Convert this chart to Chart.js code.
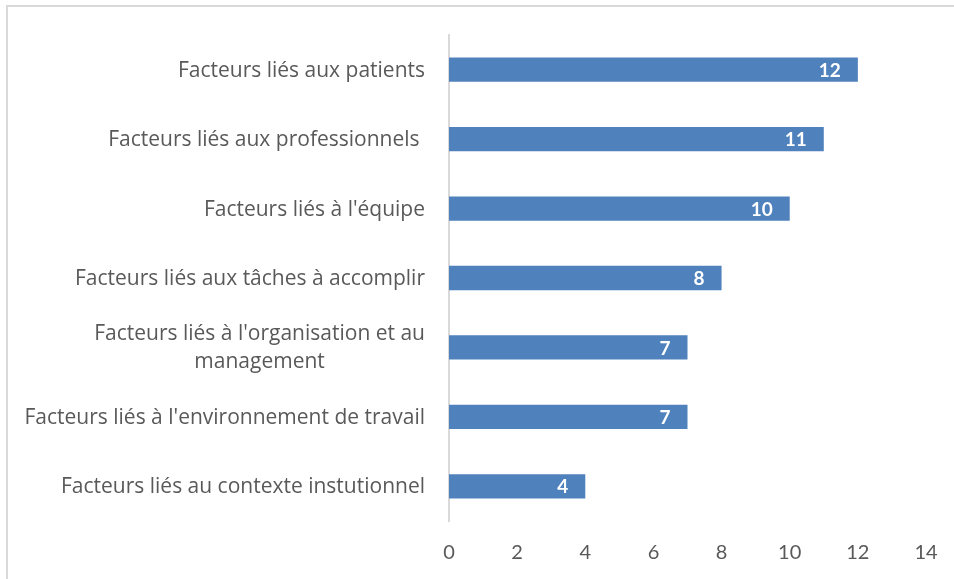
<!DOCTYPE html>
<html>
<head>
<meta charset="utf-8">
<script src="https://cdn.jsdelivr.net/npm/chart.js@4"></script>
<style>
  html, body { margin: 0; padding: 0; background: #fff; overflow: hidden; }
  #frame { position: absolute; left: 6px; top: 5px; width: 1000px; height: 700px; border: 2px solid #d9d9d9; box-sizing: border-box; }
  #wrap { position: absolute; left: 0; top: 0; width: 954px; height: 579px; }
</style>
</head>
<body>
<div id="frame"></div>
<div id="wrap"><canvas id="c" width="954" height="579"></canvas></div>
<script>
const categories = [
  "Facteurs liés aux patients",
  "Facteurs liés aux professionnels ",
  "Facteurs liés à l'équipe",
  "Facteurs liés aux tâches à accomplir",
  ["Facteurs liés à l'organisation et au", "management"],
  "Facteurs liés à l'environnement de travail",
  "Facteurs liés au contexte instutionnel"
];
const values = [12, 11, 10, 8, 7, 7, 4];
const xTicks = [0, 2, 4, 6, 8, 10, 12, 14];

const CAT_FONT = "'Open Sans', sans-serif";
const NUM_FONT = "Lato, 'Open Sans', sans-serif";
const TEXT = "#595959";

// fit category font so the widest label spans ~400px like the reference
const mctx = document.createElement('canvas').getContext('2d');
mctx.font = "100px " + CAT_FONT;
const widest = Math.max(...categories.flat().map(l => mctx.measureText(l.trim()).width));
const CAT_SIZE = Math.round(100 * 400 / widest * 10) / 10;

const yLabelPlugin = {
  id: 'yLabels',
  afterDraw(chart) {
    const ctx = chart.ctx;
    const ys = chart.scales.y;
    const right = chart.chartArea.left - 24;
    ctx.save();
    ctx.font = CAT_SIZE + "px " + CAT_FONT;
    ctx.fillStyle = TEXT;
    ctx.textBaseline = 'middle';
    const lh = 28;
    categories.forEach((lab, i) => {
      const y = ys.getPixelForTick(i) + 1;
      const lines = Array.isArray(lab) ? lab : [lab];
      const maxW = Math.max(...lines.map(l => ctx.measureText(l).width));
      const y0 = y - (lines.length - 1) * lh / 2;
      lines.forEach((l, j) => {
        if (lines.length > 1) {
          ctx.textAlign = 'center';
          ctx.fillText(l, right - maxW / 2, y0 + j * lh);
        } else {
          ctx.textAlign = 'right';
          ctx.fillText(l, right, y0 + j * lh);
        }
      });
    });
    ctx.restore();
  }
};

const dataLabelPlugin = {
  id: 'dataLabels',
  afterDatasetsDraw(chart) {
    const ctx = chart.ctx;
    const meta = chart.getDatasetMeta(0);
    ctx.save();
    ctx.font = "bold 19px " + NUM_FONT;
    ctx.fillStyle = "#ffffff";
    ctx.textAlign = 'right';
    ctx.textBaseline = 'middle';
    meta.data.forEach((bar, i) => {
      ctx.fillText(String(values[i]), bar.x - 17, bar.y + 1);
    });
    ctx.restore();
  }
};

new Chart(document.getElementById('c'), {
  type: 'bar',
  data: {
    labels: categories,
    datasets: [{
      data: values,
      backgroundColor: '#4F81BD',
      borderWidth: 0,
      barPercentage: 0.35,
      categoryPercentage: 1.0
    }]
  },
  options: {
    indexAxis: 'y',
    responsive: false,
    animation: false,
    layout: { padding: { left: 0, right: 28, top: 35, bottom: 0 } },
    plugins: { legend: { display: false }, tooltip: { enabled: false } },
    scales: {
      x: {
        min: 0, max: 14,
        afterBuildTicks(s) { s.ticks = xTicks.map(v => ({ value: v })); },
        grid: { display: false, drawTicks: false },
        border: { display: false },
        ticks: { color: TEXT, font: { family: NUM_FONT, size: 20 }, padding: 20, maxRotation: 0 },
        afterFit(s) { s.height = 579 - 521; s.paddingLeft = 0; s.paddingRight = 0; }
      },
      y: {
        grid: { display: false, drawTicks: false },
        border: { display: true, color: '#d9d9d9', width: 2 },
        ticks: { display: false },
        afterFit(s) { s.width = 449; }
      }
    }
  },
  plugins: [yLabelPlugin, dataLabelPlugin]
});
</script>
</body>
</html>
